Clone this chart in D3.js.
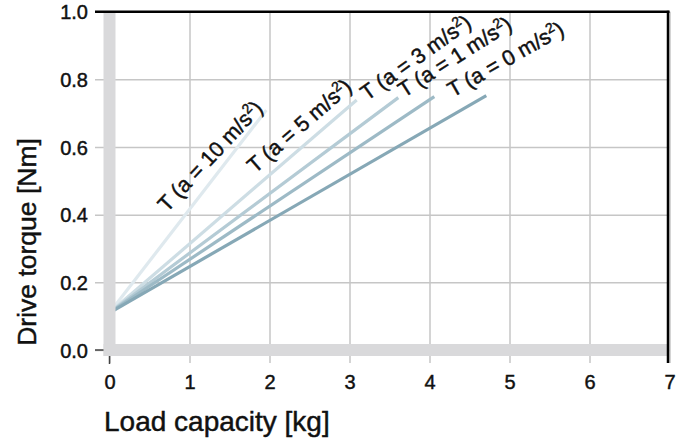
<!DOCTYPE html>
<html>
<head>
<meta charset="utf-8">
<script src="https://cdn.jsdelivr.net/npm/d3@7"></script>
<style>
  body { margin: 0; background: #fff; }
  text { font-family: "Liberation Sans", Arial, sans-serif; fill: #111; stroke: #111; stroke-width: 0.45px; }
</style>
</head>
<body>
<script>
// data
let accel = [10, 5, 3, 1, 0]              // a in m/s²
let startLoad = [0, 0, 0, 0, 0]
let startTorque = [0.11, 0.11, 0.11, 0.11, 0.11]
let endLoad = [1.96, 3.09, 3.61, 4.06, 4.71]
let endTorque = [0.709, 0.739, 0.746, 0.749, 0.752]
let xTicks = [0, 1, 2, 3, 4, 5, 6, 7]
let yTicks = [0, 0.2, 0.4, 0.6, 0.8, 1.0]

let w = 685, h = 441
let pLeft = 109.5, pRight = 669.5, pTop = 11.7, pBottom = 350
let colors = ["#dfe9ee", "#cddde4", "#b4cbd5", "#9dbac6", "#86a8b6"]
// where each label sits (data coords of the baseline start) and its tilt
let labelAt = [[0.72, 0.405, 47], [1.82, 0.52, 41], [3.22, 0.735, 35.5], [3.68, 0.745, 32.5], [4.29, 0.746, 29.5]]

let svg = d3.select("body").append("svg")
    .attr("width", w)
    .attr("height", h)

let x = d3.scaleLinear().domain([0, 7]).range([pLeft, pRight])
let y = d3.scaleLinear().domain([0, 1]).range([pBottom, pTop])

//grid
svg.append("g")
    .attr("transform", "translate(0," + (pBottom + 13) + ")")
    .call(d3.axisTop(x).tickValues(xTicks).tickSize(pBottom + 13 - pTop).tickFormat(""))
    .call(g => g.select(".domain").remove())
    .call(g => g.selectAll("line").attr("stroke", "#c6c6c6").attr("stroke-width", 1.5))
svg.append("g")
    .attr("transform", "translate(95,0)")
    .call(d3.axisRight(y).tickValues(yTicks).tickSize(pRight - 95).tickFormat(""))
    .call(g => g.select(".domain").remove())
    .call(g => g.selectAll("line").attr("stroke", "#c6c6c6").attr("stroke-width", 1.5))

//tick labels
svg.append("g")
    .attr("transform", "translate(0," + (pBottom + 13) + ")")
    .call(d3.axisBottom(x).tickValues(xTicks).tickSize(0).tickPadding(12).tickFormat(d3.format("d")))
    .call(g => g.select(".domain").remove())
    .call(g => g.selectAll("text").attr("font-size", 20).attr("font-family", null).style("fill", "#111"))
svg.append("g")
    .attr("transform", "translate(95,0)")
    .call(d3.axisLeft(y).tickValues(yTicks).tickSize(0).tickPadding(7).tickFormat(d3.format(".1f")))
    .call(g => g.select(".domain").remove())
    .call(g => g.selectAll("text").attr("font-size", 20).attr("font-family", null).attr("dy", "0.36em").style("fill", "#111"))

//lines
svg.selectAll(".curve")
    .data(accel)
    .enter()
    .append("line")
    .attr("class", "curve")
    .attr("x1", (d, i) => x(startLoad[i]))
    .attr("y1", (d, i) => y(startTorque[i]))
    .attr("x2", (d, i) => x(endLoad[i]))
    .attr("y2", (d, i) => y(endTorque[i]))
    .attr("stroke", (d, i) => colors[i])
    .attr("stroke-width", 3.2)

//labels
let lbl = svg.selectAll(".lbl")
    .data(accel)
    .enter()
    .append("text")
    .attr("class", "lbl")
    .attr("font-size", 21.5)
    .attr("transform", (d, i) => "translate(" + x(labelAt[i][0]) + "," + y(labelAt[i][1]) + ") rotate(" + (-labelAt[i][2]) + ")")
lbl.append("tspan").text(d => "T (a = " + d + " m/s")
lbl.append("tspan").attr("font-size", 14).attr("dy", -8).text("2")
lbl.append("tspan").attr("dy", 8).text(")")

//grey bands on the axes
svg.append("rect")
    .attr("x", pLeft - 6).attr("y", pTop)
    .attr("width", 12).attr("height", pBottom + 6 - pTop)
    .attr("fill", "#d9d9db")
svg.append("rect")
    .attr("x", pLeft - 6).attr("y", pBottom - 6)
    .attr("width", pRight - 2 - pLeft + 6).attr("height", 12)
    .attr("fill", "#d9d9db")

//small dark ticks at zero
svg.append("line").attr("x1", x(0)).attr("x2", x(0)).attr("y1", pBottom + 6).attr("y2", pBottom + 14)
    .attr("stroke", "#444").attr("stroke-width", 1.5)
svg.append("line").attr("x1", 95).attr("x2", pLeft - 6).attr("y1", y(0)).attr("y2", y(0))
    .attr("stroke", "#444").attr("stroke-width", 1.5)

//frame top and right
svg.append("line").attr("x1", 95).attr("x2", pRight).attr("y1", pTop).attr("y2", pTop)
    .attr("stroke", "#000").attr("stroke-width", 2.5)
svg.append("line").attr("x1", pRight - 1.5).attr("x2", pRight - 1.5).attr("y1", pTop - 1).attr("y2", pBottom + 13)
    .attr("stroke", "#000").attr("stroke-width", 2.5)

//axis titles
svg.append("text")
    .attr("x", 104)
    .attr("y", 431)
    .attr("font-size", 28)
    .text("Load capacity [kg]")
svg.append("text")
    .attr("transform", "translate(36," + 242 + ") rotate(-90)")
    .attr("text-anchor", "middle")
    .attr("font-size", 26.5)
    .text("Drive torque [Nm]")
</script>
</body>
</html>
